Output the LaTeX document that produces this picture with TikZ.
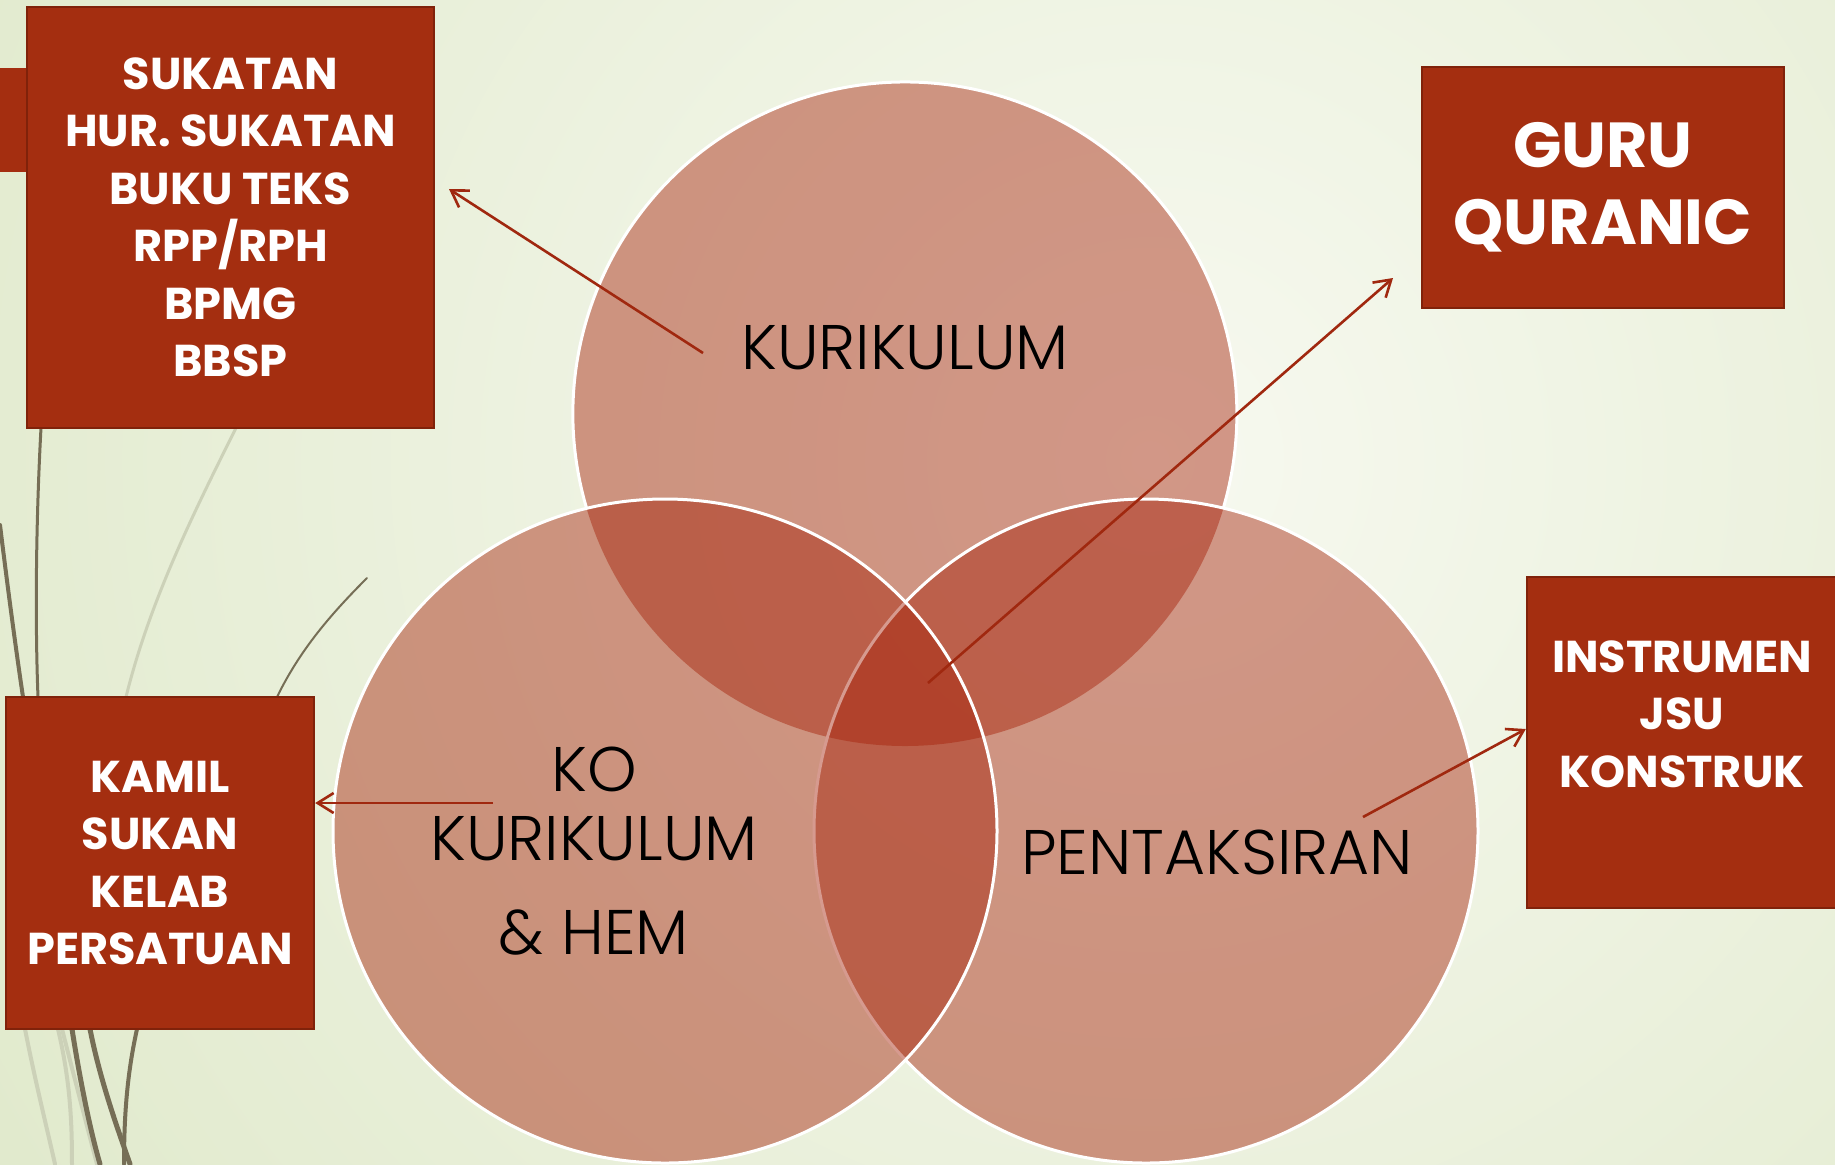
\documentclass[tikz,border=0pt]{standalone}
\usepackage{fontspec}
\setmainfont{Poppins}
\IfFontExistsTF{Poppins Light}
  {\newfontfamily\thinfont{Poppins Light}}
  {\newfontfamily\thinfont{Poppins}}
\usetikzlibrary{arrows.meta}
\definecolor{boxred}{RGB}{164,46,16}
\definecolor{boxrim}{RGB}{128,34,10}
\definecolor{vennred}{RGB}{165,32,8}
\definecolor{linkred}{RGB}{160,40,15}
\definecolor{bgcentre}{RGB}{247,249,240}
\definecolor{bgedge}{RGB}{222,232,200}
\definecolor{stalk}{RGB}{118,110,86}
\definecolor{palestalk}{RGB}{204,209,184}
\tikzset{
  red box/.style={draw=boxrim,line width=1.2pt,fill=boxred,text=white,align=center,
    font=\bfseries\fontsize{22.3}{28.75}\selectfont},
  venn disc/.style={fill=vennred,fill opacity=0.45,draw=white,line width=1.5pt},
  venn text/.style={text=black,align=center,font=\thinfont\fontsize{31.5}{34.5}\selectfont},
  pointer/.style={draw=linkred,line width=1.3pt,-{Straight Barb[length=8pt,width=10pt]}},
  stalk line/.style={draw=stalk,line cap=round},
  pale stalk/.style={draw=palestalk,line cap=round},
}

\begin{document}
\begin{tikzpicture}[x=0.5pt,y=-0.5pt]
\useasboundingbox (0,0) rectangle (1835,1164);
\fill[bgedge] (0,0) rectangle (1835,1164);
\begin{scope}
\clip (0,0) rectangle (1835,1164);
\shade[inner color=bgcentre,outer color=bgedge] (1150,460) circle[radius=760pt];
\end{scope}

\draw[stalk line,line width=1.5pt] (41,428) .. controls (36,520) and (35,620) .. (38,697);
\draw[stalk line,line width=2pt] (0,525) .. controls (8,590) and (16,650) .. (23,697);
\draw[pale stalk,line width=1.5pt] (236,428) .. controls (195,510) and (150,600) .. (126,697);
\draw[stalk line,line width=1pt] (367,578) .. controls (330,615) and (300,650) .. (277,697);
\draw[pale stalk,line width=2pt] (25,1029) .. controls (35,1080) and (45,1120) .. (55,1164);
\draw[pale stalk,line width=2pt] (58,1029) .. controls (70,1080) and (72,1120) .. (72,1164);
\draw[pale stalk,line width=2pt] (62,1029) .. controls (75,1080) and (88,1130) .. (97,1164);
\draw[stalk line,line width=2.5pt] (72,1029) .. controls (80,1080) and (90,1130) .. (100,1164);
\draw[stalk line,line width=2.5pt] (90,1029) .. controls (100,1080) and (118,1130) .. (130,1164);
\draw[stalk line,line width=2pt] (137,1029) .. controls (128,1070) and (124,1110) .. (124,1164);

\fill[boxred] (0,68) rectangle (27,172);

\coordinate (top-c) at (905,414);
\coordinate (left-c) at (665,831);
\coordinate (right-c) at (1146,831);
\fill[vennred,fill opacity=0.45] (top-c) circle[radius=166pt];
\draw[white,line width=1.5pt] (586.6,508.3) arc[start angle=196.5,end angle=-16.5,radius=166pt];
\path[venn disc] (right-c) circle[radius=166pt];
\path[venn disc] (left-c) circle[radius=166pt];

\node[venn text] (kurikulum) at (905,348) {KURIKULUM};
\node[venn text] (kokurikulum) at (594,851) {KO\\KURIKULUM\\[12.5pt]\& HEM};
\node[venn text] (pentaksiran) at (1217,852) {PENTAKSIRAN};

\node[red box,minimum width=203.5pt,minimum height=210.5pt] (sukatan) at (230.5,217.5)
  {SUKATAN\\HUR. SUKATAN\\BUKU TEKS\\RPP/RPH\\BPMG\\BBSP};
\node[red box,minimum width=181pt,minimum height=120.5pt,
  font=\bfseries\fontsize{31.8}{38.5}\selectfont] (guru) at (1603,187.5) {GURU\\QURANIC};
\node[red box,minimum width=155pt,minimum height=165.5pt] (instrumen) at (1682,742.5)
  {INSTRUMEN\\JSU\\KONSTRUK\\\mbox{}};
\node[red box,minimum width=154pt,minimum height=166pt] (kamil) at (160,863)
  {KAMIL\\SUKAN\\KELAB\\PERSATUAN};

\coordinate (kurikulum-tail) at (703,353);
\coordinate (kurikulum-aim) at (449,189);
\coordinate (guru-tail) at (928,683);
\coordinate (guru-aim) at (1393,278);
\coordinate (kamil-tail) at (493,803);
\coordinate (instrumen-tail) at (1363,817);
\coordinate (instrumen-aim) at (1527,729);
\draw[pointer] (kurikulum-tail) -- (kurikulum-aim);
\draw[pointer] (guru-tail) -- (guru-aim);
\draw[pointer] (kamil-tail) -- (kamil.east |- kamil-tail);
\draw[pointer] (instrumen-tail) -- (instrumen.west |- instrumen-aim);
\end{tikzpicture}
\end{document}
